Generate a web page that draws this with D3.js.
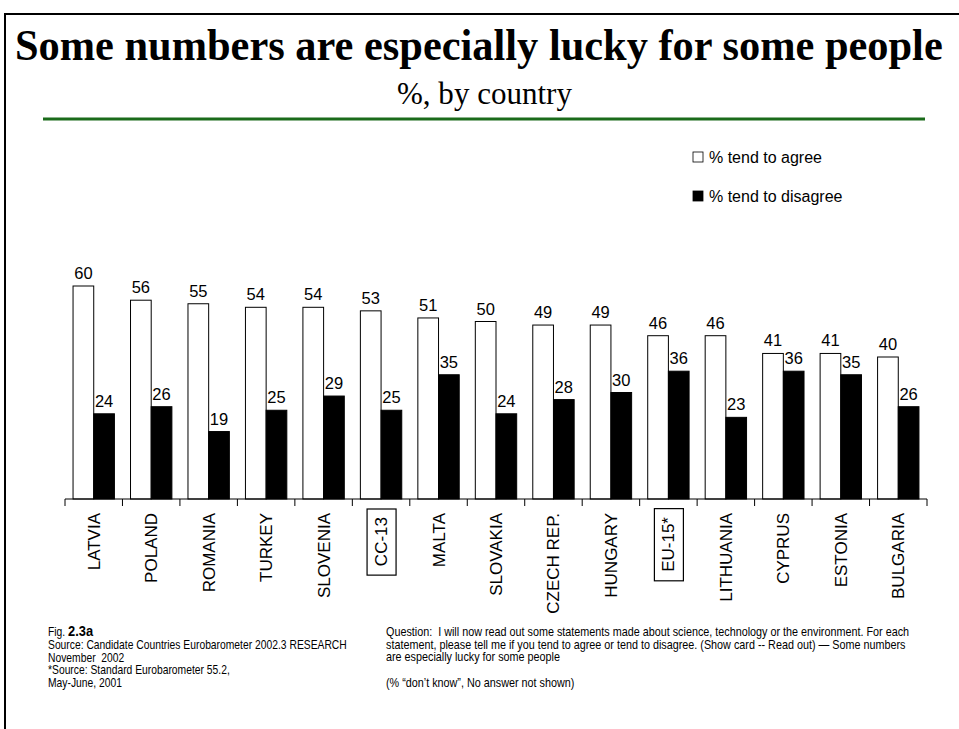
<!DOCTYPE html>
<html>
<head>
<meta charset="utf-8">
<script src="https://cdn.jsdelivr.net/npm/d3@7"></script>
<style>
  html, body { margin: 0; padding: 0; background: #fff; }
  svg { display: block; }
</style>
</head>
<body>
<svg id="chart" width="959" height="729"></svg>
<script>
// Survey results by country
const countries = ["LATVIA", "POLAND", "ROMANIA", "TURKEY", "SLOVENIA", "CC-13", "MALTA", "SLOVAKIA",
                   "CZECH REP.", "HUNGARY", "EU-15*", "LITHUANIA", "CYPRUS", "ESTONIA", "BULGARIA"];
const agree    = [60, 56, 55, 54, 54, 53, 51, 50, 49, 49, 46, 46, 41, 41, 40];
const disagree = [24, 26, 19, 25, 29, 25, 35, 24, 28, 30, 36, 23, 36, 35, 26];
const boxed = ["CC-13", "EU-15*"];
const seriesNames = ["% tend to agree", "% tend to disagree"];

const svg = d3.select("#chart");

// Frame lines
svg.append("line").attr("x1", 5).attr("x2", 959).attr("y1", 14).attr("y2", 14)
  .attr("stroke", "#000").attr("stroke-width", 2);
svg.append("line").attr("x1", 5).attr("x2", 5).attr("y1", 13).attr("y2", 729)
  .attr("stroke", "#000").attr("stroke-width", 2);

// Title block: condensed horizontally to fit a fixed width
const serif = "'Liberation Serif', 'Times New Roman', serif";
function fitText(g, str, size, weight, width) {
  const t = g.append("text").attr("x", 0).attr("y", 0)
    .attr("font-family", serif).attr("font-weight", weight).attr("font-size", size)
    .text(str);
  const w = t.node().getComputedTextLength();
  t.attr("transform", `scale(${Math.min(1, width / w)},1)`);
}
fitText(svg.append("g").attr("transform", "translate(15,60)"),
  "Some numbers are especially lucky for some people", 44, "bold", 928);
fitText(svg.append("g").attr("transform", "translate(397,104)"),
  "%, by country", 32, "normal", 175);
svg.append("line").attr("x1", 43).attr("x2", 925).attr("y1", 119).attr("y2", 119)
  .attr("stroke", "#1a6b1a").attr("stroke-width", 3);

// Scales
const x = d3.scaleBand().domain(countries).range([65, 927]).paddingInner(0.28).paddingOuter(0.14);
const xs = d3.scaleBand().domain([0, 1]).range([0, x.bandwidth()]);
const y = d3.scaleLinear().domain([0, 60]).range([499, 286]);

const sans = "'Liberation Sans', Arial, sans-serif";

const groups = svg.append("g").selectAll("g").data(countries).join("g")
  .attr("transform", d => `translate(${x(d)},0)`);

[agree, disagree].forEach((vals, s) => {
  groups.append("rect")
    .attr("x", xs(s))
    .attr("y", (d, i) => y(vals[i]))
    .attr("width", xs.bandwidth())
    .attr("height", (d, i) => y(0) - y(vals[i]))
    .attr("fill", s === 0 ? "#fff" : "#000")
    .attr("stroke", "#000").attr("stroke-width", 1);
  groups.append("text")
    .attr("x", xs(s) + xs.bandwidth() / 2)
    .attr("y", (d, i) => y(vals[i]) - 7)
    .attr("text-anchor", "middle")
    .attr("font-family", sans).attr("font-size", 16.5)
    .text((d, i) => vals[i]);
});

// Category axis with ticks between groups
const step = x.step();
const axisG = svg.append("g");
axisG.append("line").attr("x1", 65).attr("x2", 927).attr("y1", y(0)).attr("y2", y(0))
  .attr("stroke", "#000").attr("stroke-width", 1);
axisG.selectAll("line.tick").data(d3.range(countries.length + 1)).join("line")
  .attr("class", "tick")
  .attr("x1", i => 65 + i * step).attr("x2", i => 65 + i * step)
  .attr("y1", y(0)).attr("y2", y(0) + 7)
  .attr("stroke", "#000").attr("stroke-width", 1);

const labels = svg.append("g").selectAll("g").data(countries).join("g")
  .attr("transform", d => `translate(${x(d) + x.bandwidth() / 2 + 6},${boxed.includes(d) ? 517 : 513}) rotate(-90)`);
labels.append("text")
  .attr("x", 0).attr("y", 0)
  .attr("text-anchor", "end")
  .attr("font-family", sans).attr("font-size", 17)
  .text(d => d);
labels.filter(d => boxed.includes(d)).each(function () {
  const g = d3.select(this);
  const bb = g.select("text").node().getBBox();
  g.insert("rect", "text")
    .attr("x", bb.x - 9).attr("y", bb.y - 5)
    .attr("width", bb.width + 17).attr("height", bb.height + 10)
    .attr("fill", "none").attr("stroke", "#000").attr("stroke-width", 1.2);
});

// Legend
const legend = svg.append("g").attr("transform", "translate(693,152)");
seriesNames.forEach((name, i) => {
  const g = legend.append("g").attr("transform", `translate(0,${i * 39})`);
  g.append("rect").attr("x", 0).attr("y", 0).attr("width", 10).attr("height", 10)
    .attr("fill", i === 0 ? "#fff" : "#000").attr("stroke", "#000").attr("stroke-width", 0.8);
  g.append("text").attr("x", 16).attr("y", 11)
    .attr("font-family", sans).attr("font-size", 16).text(name);
});

// Footnotes, set in a condensed face
const narrow = "'Liberation Sans Narrow', 'Arial Narrow', 'Liberation Sans', sans-serif";
const left = svg.append("g").attr("transform", "translate(48,0) scale(0.86,1)");
const fig = left.append("text").attr("x", 0).attr("y", 636).attr("font-family", narrow);
fig.append("tspan").attr("font-size", 12).text("Fig. ");
fig.append("tspan").attr("font-size", 15).attr("font-weight", "bold").text("2.3a");

const sourceLines = ["Source: Candidate Countries Eurobarometer 2002.3 RESEARCH", "November  2002",
                     "*Source: Standard Eurobarometer 55.2,", "May-June, 2001"];
left.append("g").selectAll("text").data(sourceLines).join("text")
  .attr("x", 0).attr("y", (d, i) => 649 + i * 12.7)
  .attr("font-family", narrow).attr("font-size", 12)
  .attr("xml:space", "preserve")
  .text(d => d);

const questionLines = [
  "Question:  I will now read out some statements made about science, technology or the environment. For each",
  "statement, please tell me if you tend to agree or tend to disagree. (Show card -- Read out) \u2014 Some numbers",
  "are especially lucky for some people",
  "",
  "(% \u201cdon\u2019t know\u201d, No answer not shown)"];
svg.append("g").attr("transform", "translate(386,0) scale(0.9,1)")
  .selectAll("text").data(questionLines).join("text")
  .attr("x", 0).attr("y", (d, i) => 636 + i * 12.7)
  .attr("font-family", narrow).attr("font-size", 12)
  .attr("xml:space", "preserve")
  .text(d => d);
</script>
</body>
</html>
